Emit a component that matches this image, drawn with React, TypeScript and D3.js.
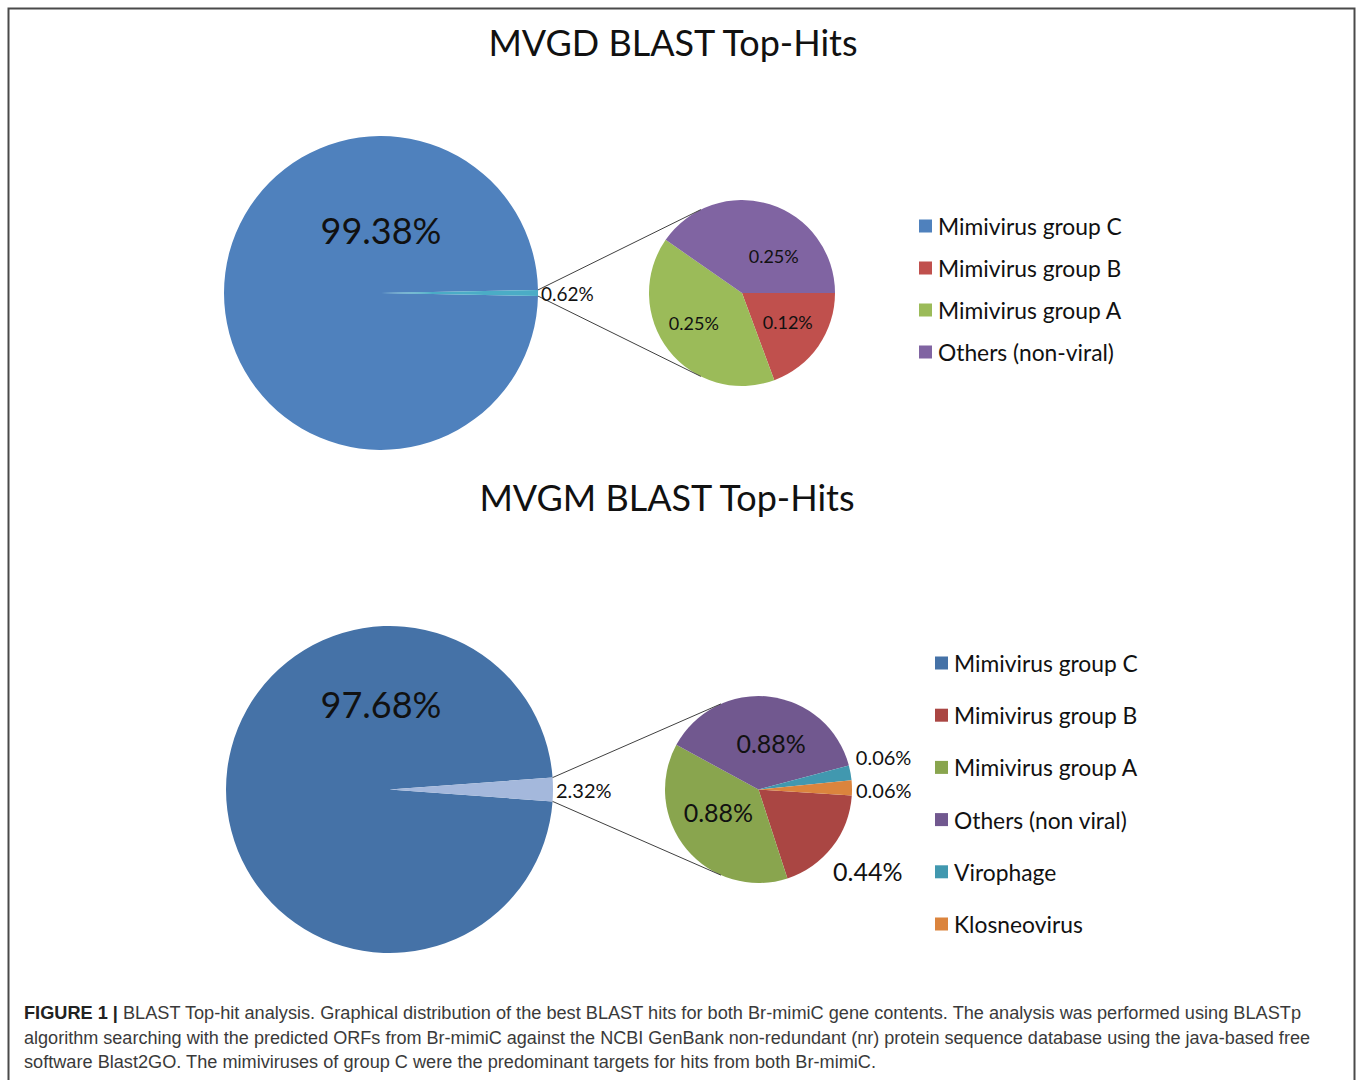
import React from 'react';
import * as d3 from 'd3';

const W = 1357;
const H = 1080;

// MVGD chart
const mvgdCategories = ['Mimivirus group C', 'Mimivirus group B', 'Mimivirus group A', 'Others (non-viral)'];
const mvgdValues = [99.38, 0.12, 0.25, 0.25];
const mvgdColors = ['#4f81bd', '#c0504d', '#9bbb59', '#8064a2'];
const mvgdOtherColor = '#4bacc6';

// MVGM chart
const mvgmCategories = ['Mimivirus group C', 'Mimivirus group B', 'Mimivirus group A', 'Others (non viral)', 'Virophage', 'Klosneovirus'];
const mvgmValues = [97.68, 0.44, 0.88, 0.88, 0.06, 0.06];
const mvgmColors = ['#4572a7', '#aa4643', '#89a54e', '#71588f', '#4198af', '#db843d'];
const mvgmOtherColor = '#a4b8dc';

// order of slices in the secondary pie, clockwise
const mvgdSecondOrder = [1, 2, 3];
const mvgmSecondOrder = [1, 2, 3, 4, 5];

const captionLines = [
  'BLAST Top-hit analysis. Graphical distribution of the best BLAST hits for both Br-mimiC gene contents. The analysis was performed using BLASTp',
  'algorithm searching with the predicted ORFs from Br-mimiC against the NCBI GenBank non-redundant (nr) protein sequence database using the java-based free',
  'software Blast2GO. The mimiviruses of group C were the predominant targets for hits from both Br-mimiC.'
];

const FONT = 'Lato, "Open Sans", sans-serif';
const fmt = (v: number) => v.toFixed(2) + '%';
const rad = (deg: number) => (deg * Math.PI) / 180;

function pt(cx: number, cy: number, r: number, a: number) {
  return [cx + r * Math.sin(a), cy - r * Math.cos(a)];
}

function tangent(p: number[], c: number[], r: number, upper: boolean) {
  const vx = p[0] - c[0], vy = p[1] - c[1];
  const d = Math.sqrt(vx * vx + vy * vy);
  const base = Math.atan2(vy, vx);
  const alpha = Math.acos(r / d);
  const t = upper ? base + alpha : base - alpha;
  return [c[0] + r * Math.cos(t), c[1] + r * Math.sin(t)];
}

interface PieProps {
  title: string;
  titleX: number;
  titleY: number;
  values: number[];
  colors: string[];
  otherColor: string;
  order: number[];
  cx: number; cy: number; r: number;
  cx2: number; r2: number;
  start2: number;
  mainLabel: { a: number; k: number; size: number };
  otherLabelSize: number;
  // placement of each secondary label: radius factor, extra dx/dy, size
  labels2: { k: number; dx: number; dy: number; size: number }[];
}

function PieOfPie(p: PieProps) {
  const main = p.values[0];
  const other = d3.sum(p.order.map(i => p.values[i]));
  const otherSpan = (other / (main + other)) * 2 * Math.PI;
  const s0 = Math.PI / 2 - otherSpan / 2;

  const pieMain = d3.pie<number>().sort(null).value(d => d)
    .startAngle(s0).endAngle(s0 + 2 * Math.PI);
  const mainArcs = pieMain([other, main]);
  const arcMain = d3.arc<d3.PieArcDatum<number>>().innerRadius(0).outerRadius(p.r);

  const st = rad(p.start2);
  const pie2 = d3.pie<number>().sort(null).value(i => p.values[i])
    .startAngle(st).endAngle(st + 2 * Math.PI);
  const arcs2 = pie2(p.order);
  const arc2 = d3.arc<d3.PieArcDatum<number>>().innerRadius(0).outerRadius(p.r2);

  const cy = p.cy;
  const e1 = pt(p.cx, cy, p.r, mainArcs[0].startAngle);
  const e2 = pt(p.cx, cy, p.r, mainArcs[0].endAngle);
  const t1 = tangent(e1, [p.cx2, cy], p.r2, true);
  const t2 = tangent(e2, [p.cx2, cy], p.r2, false);

  const ml = pt(p.cx, cy, p.r * p.mainLabel.k, rad(p.mainLabel.a));

  return (
    <g>
      <text x={p.titleX} y={p.titleY} textAnchor="middle" fontSize={36} fontFamily={FONT} fill="#111">{p.title}</text>
      <g transform={`translate(${p.cx},${cy})`}>
        <path d={arcMain(mainArcs[1]) || ''} fill={p.colors[0]} />
        <path d={arcMain(mainArcs[0]) || ''} fill={p.otherColor} />
      </g>
      <g transform={`translate(${p.cx2},${cy})`}>
        {arcs2.map(a => (
          <path key={a.data} d={arc2(a) || ''} fill={p.colors[a.data]} />
        ))}
      </g>
      <line x1={e1[0]} y1={e1[1]} x2={t1[0]} y2={t1[1]} stroke="#404040" strokeWidth={1} />
      <line x1={e2[0]} y1={e2[1]} x2={t2[0]} y2={t2[1]} stroke="#404040" strokeWidth={1} />
      <text x={ml[0]} y={ml[1]} textAnchor="middle" dominantBaseline="central" fontSize={p.mainLabel.size} fontFamily={FONT} fill="#111">{fmt(main)}</text>
      <text x={p.cx + p.r + 3} y={cy} dominantBaseline="central" fontSize={p.otherLabelSize} fontFamily={FONT} fill="#111">{fmt(other)}</text>
      {arcs2.map((a, j) => {
        const L = p.labels2[j];
        const m = pt(p.cx2, cy, p.r2 * L.k, (a.startAngle + a.endAngle) / 2);
        return (
          <text key={a.data} x={m[0] + L.dx} y={m[1] + L.dy} textAnchor="middle" dominantBaseline="central"
            fontSize={L.size} fontFamily={FONT} fill="#111">{fmt(p.values[a.data])}</text>
        );
      })}
    </g>
  );
}

function Legend({ x, y, step, size, sw, cats, colors }:
  { x: number; y: number; step: number; size: number; sw: number; cats: string[]; colors: string[] }) {
  return (
    <g>
      {cats.map((c, i) => (
        <g key={c} transform={`translate(${x},${y + i * step})`}>
          <rect x={0} y={-sw / 2} width={sw} height={sw} fill={colors[i]} />
          <text x={sw + 6} y={0} dominantBaseline="central" fontSize={size} fontFamily={FONT} fill="#111">{c}</text>
        </g>
      ))}
    </g>
  );
}

export default function App() {
  return (
    <svg width={W} height={H} style={{ position: 'absolute', left: 0, top: 0, background: '#fff' }}>
      <rect x={0} y={0} width={W} height={H} fill="#fff" />
      <rect x={8.5} y={8.5} width={1346} height={H + 20} fill="none" stroke="#4a4a4a" strokeWidth={2} />

      <PieOfPie title="MVGD BLAST Top-Hits" titleX={673} titleY={56}
        values={mvgdValues} colors={mvgdColors} otherColor={mvgdOtherColor} order={mvgdSecondOrder}
        cx={381} cy={293} r={157} cx2={742} r2={93} start2={90}
        mainLabel={{ a: 0, k: 0.4, size: 36 }} otherLabelSize={19}
        labels2={[
          { k: 0.6, dx: 0, dy: -3, size: 18 },
          { k: 0.6, dx: -4, dy: -4, size: 18 },
          { k: 0.6, dx: 15, dy: 16, size: 18 }
        ]} />
      <Legend x={919} y={226} step={42} size={22.8} sw={13} cats={mvgdCategories} colors={mvgdColors} />

      <PieOfPie title="MVGM BLAST Top-Hits" titleX={667} titleY={511}
        values={mvgmValues} colors={mvgmColors} otherColor={mvgmOtherColor} order={mvgmSecondOrder}
        cx={389.5} cy={789.5} r={163.5} cx2={758.5} r2={93.5} start2={93.7}
        mainLabel={{ a: -5.7, k: 0.525, size: 36 }} otherLabelSize={20}
        labels2={[
          { k: 1.48, dx: 0, dy: -3, size: 25 },
          { k: 0.6, dx: 3, dy: -13, size: 25 },
          { k: 0.6, dx: 6, dy: 9, size: 25 },
          { k: 1.36, dx: 0, dy: -10, size: 20 },
          { k: 1.34, dx: 0, dy: 3, size: 20 }
        ]} />
      <Legend x={935} y={663} step={52.2} size={22.8} sw={13} cats={mvgmCategories} colors={mvgmColors} />

      <g fontFamily='"Liberation Sans", Arial, sans-serif' fontSize={17.5} fill="#3a3a3a">
        <text x={24} y={1019} textLength={1277} lengthAdjust="spacingAndGlyphs">
          <tspan fontWeight="bold" fill="#222">FIGURE 1 | </tspan>{captionLines[0]}
        </text>
        <text x={24} y={1044} textLength={1286} lengthAdjust="spacingAndGlyphs">{captionLines[1]}</text>
        <text x={24} y={1068} textLength={852} lengthAdjust="spacingAndGlyphs">{captionLines[2]}</text>
      </g>
    </svg>
  );
}
